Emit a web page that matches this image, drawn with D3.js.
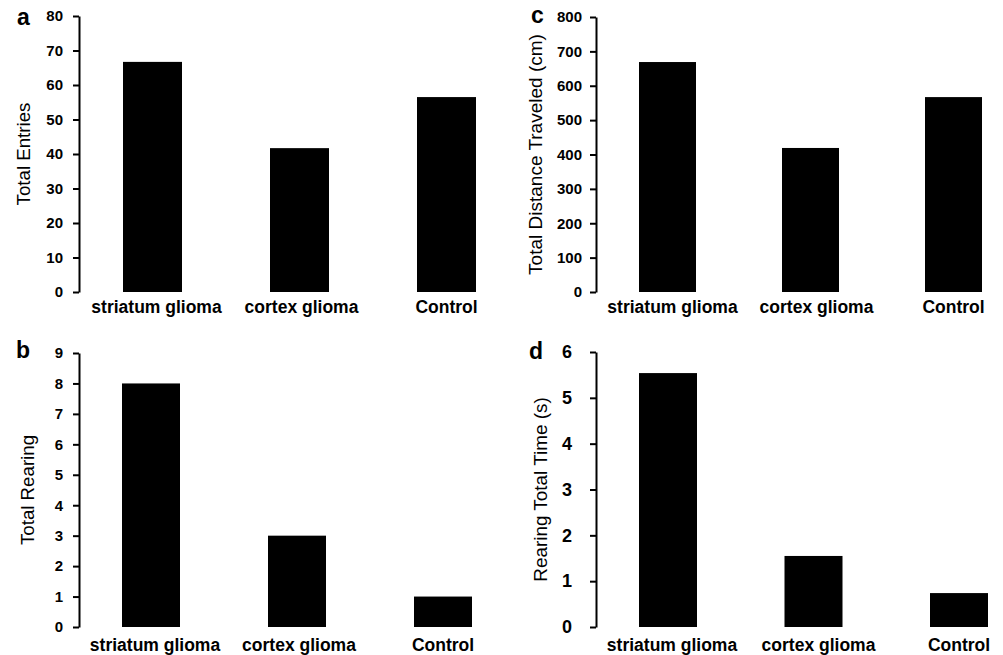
<!DOCTYPE html>
<html>
<head>
<meta charset="utf-8">
<script src="https://cdn.jsdelivr.net/npm/d3@7"></script>
<style>
    body { margin: 0; background: #fff; }
    svg { display: block; }
    .bar { fill: #000; }
    .axis path, .axis line { stroke: #000; stroke-width: 2; }
    .cat-label { font-family: "Liberation Sans", Arial, sans-serif; font-weight: bold; fill: #000; }
    .y-title { font-family: "Liberation Sans", Arial, sans-serif; fill: #000; }
    .panel-letter { font-family: "Liberation Sans", Arial, sans-serif; font-weight: bold; fill: #000; }
</style>
</head>
<body>
<div id="chart"></div>
<script>
// data
const categories = ['striatum glioma', 'cortex glioma', 'Control'];
const totalEntries = [66.7, 41.7, 56.5];
const totalDistance = [669, 419, 567];
const totalRearing = [8, 3, 1];
const rearingTime = [5.54, 1.55, 0.74];

const entriesTicks = [0, 10, 20, 30, 40, 50, 60, 70, 80];
const distanceTicks = [0, 100, 200, 300, 400, 500, 600, 700, 800];
const rearingTicks = [0, 1, 2, 3, 4, 5, 6, 7, 8, 9];
const timeTicks = [0, 1, 2, 3, 4, 5, 6];

const svg = d3.select('#chart')
    .append('svg')
    .attr('width', 1003)
    .attr('height', 655);

/**
 * draws one bar panel
 * layout: axisX, firstBar, step, barW, top, bottom, labelY, etc.
 */
const drawPanel = (values, ticks, title, letter, layout) => {
    const g = svg.append('g');

    const n = categories.length;
    const padIn = 1 - layout.barW / layout.step;
    const padOut = (layout.firstBar - layout.axisX) / layout.step;
    const x = d3.scaleBand()
        .domain(categories)
        .range([layout.axisX, layout.axisX + layout.step * (n - padIn + 2 * padOut)])
        .paddingInner(padIn)
        .paddingOuter(padOut);

    const y = d3.scaleLinear()
        .domain([0, ticks[ticks.length - 1]])
        .range([layout.bottom, layout.top]);

    // bars
    g.selectAll('rect.bar')
        .data(values)
        .enter()
        .append('rect')
        .attr('class', 'bar')
        .attr('x', (d, i) => x(categories[i]))
        .attr('y', d => y(d))
        .attr('width', x.bandwidth())
        .attr('height', d => y(0) - y(d));

    // y axis, ticks point outwards
    const axis = g.append('g')
        .attr('class', 'axis')
        .attr('transform', `translate(${layout.axisX},0)`)
        .call(d3.axisLeft(y)
            .tickValues(ticks)
            .tickFormat(d3.format('d'))
            .tickSize(6)
            .tickSizeOuter(0)
            .tickPadding(layout.tickPad));
    axis.selectAll('text')
        .attr('font-family', '"Liberation Sans", Arial, sans-serif')
        .attr('font-weight', 'bold')
        .attr('font-size', layout.tickFont)
        .attr('fill', '#000');

    // category labels under bars
    g.selectAll('text.cat-label')
        .data(categories)
        .enter()
        .append('text')
        .attr('class', 'cat-label')
        .attr('x', (d, i) => x(d) + x.bandwidth() / 2 + layout.labelShift[i])
        .attr('y', layout.labelY)
        .attr('text-anchor', 'middle')
        .attr('font-size', 17.5)
        .text(d => d);

    // rotated y title
    const midY = (layout.top + layout.bottom) / 2;
    g.append('text')
        .attr('class', 'y-title')
        .attr('transform', `translate(${layout.titleX},${midY}) rotate(-90)`)
        .attr('text-anchor', 'middle')
        .attr('dy', '0.35em')
        .attr('font-size', layout.titleFont)
        .text(title);

    // panel letter
    g.append('text')
        .attr('class', 'panel-letter')
        .attr('x', layout.letterX)
        .attr('y', layout.letterY)
        .attr('font-size', 23)
        .text(letter);
};

drawPanel(totalEntries, entriesTicks, 'Total Entries', 'a', {
    axisX: 79, firstBar: 123, step: 147, barW: 59, top: 16, bottom: 292,
    tickPad: 10, tickFont: 15, labelY: 313, labelShift: [4, 2, 0],
    titleX: 23, titleFont: 18.7, letterX: 17, letterY: 25
});

drawPanel(totalDistance, distanceTicks, 'Total Distance Traveled (cm)', 'c', {
    axisX: 596, firstBar: 639, step: 143, barW: 57, top: 17, bottom: 292,
    tickPad: 8, tickFont: 15, labelY: 313, labelShift: [5, 6, 0],
    titleX: 535, titleFont: 19, letterX: 531, letterY: 23
});

drawPanel(totalRearing, rearingTicks, 'Total Rearing', 'b', {
    axisX: 79, firstBar: 122, step: 146, barW: 58, top: 353, bottom: 627,
    tickPad: 10, tickFont: 15, labelY: 651, labelShift: [4, 2, 0],
    titleX: 27, titleFont: 18.7, letterX: 16, letterY: 358
});

drawPanel(rearingTime, timeTicks, 'Rearing Total Time (s)', 'd', {
    axisX: 596, firstBar: 639, step: 145.5, barW: 58, top: 352, bottom: 627,
    tickPad: 18, tickFont: 18, labelY: 651, labelShift: [4, 5, 0],
    titleX: 540, titleFont: 18.9, letterX: 529, letterY: 359
});
</script>
</body>
</html>
